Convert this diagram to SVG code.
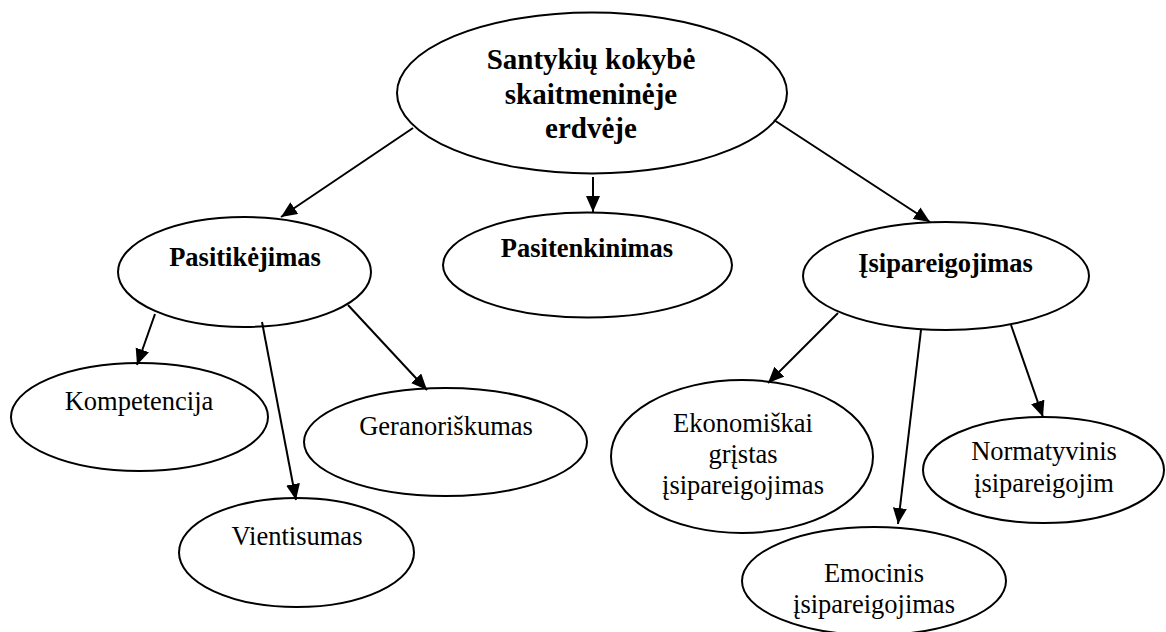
<svg xmlns="http://www.w3.org/2000/svg" width="1166" height="632" viewBox="0 0 1166 632">
  <style>
    .node ellipse { fill: #ffffff; stroke: #000000; stroke-width: 2; }
    .node text { font-family: "Liberation Serif", "Times New Roman", serif; font-size: 26.5px; fill: #000000; text-anchor: middle; }
    .node.bold text { font-weight: bold; }
    .node.root text { font-size: 29px; }
    .edges line { stroke: #000000; stroke-width: 2; marker-end: url(#arrow); }
  </style>
  <defs>
    <marker id="arrow" markerUnits="userSpaceOnUse" markerWidth="17" markerHeight="15" refX="16" refY="7" orient="auto">
      <path d="M0,0 L16,7 L0,14 Z" fill="#000000"/>
    </marker>
  </defs>
  <rect width="1166" height="632" fill="#ffffff"/>

  <!-- root -->
  <g id="root" class="node bold root">
    <ellipse cx="592" cy="93" rx="195" ry="80.5"/>
    <text x="591" y="69">Santykių kokybė</text>
    <text x="591" y="104">skaitmeninėje</text>
    <text x="591" y="138">erdvėje</text>
  </g>

  <!-- second level -->
  <g id="pasitikejimas" class="node bold">
    <ellipse cx="244.5" cy="272" rx="126.5" ry="55"/>
    <text x="245" y="266">Pasitikėjimas</text>
  </g>
  <g id="pasitenkinimas" class="node bold">
    <ellipse cx="587.5" cy="265" rx="144.5" ry="52.5"/>
    <text x="587" y="257">Pasitenkinimas</text>
  </g>
  <g id="isipareigojimas" class="node bold">
    <ellipse cx="946" cy="276" rx="143" ry="54"/>
    <text x="945.5" y="272">Įsipareigojimas</text>
  </g>

  <!-- trust components -->
  <g id="kompetencija" class="node">
    <ellipse cx="139.5" cy="417" rx="128.5" ry="54"/>
    <text x="139" y="410">Kompetencija</text>
  </g>
  <g id="vientisumas" class="node">
    <ellipse cx="296.5" cy="552.5" rx="117.5" ry="54.5"/>
    <text x="297" y="545">Vientisumas</text>
  </g>
  <g id="geranoriskumas" class="node">
    <ellipse cx="445.5" cy="442" rx="141.5" ry="54"/>
    <text x="446" y="435">Geranoriškumas</text>
  </g>

  <!-- commitment components -->
  <g id="ekonomiskai" class="node">
    <ellipse cx="742" cy="456.5" rx="131" ry="76.5"/>
    <text x="743" y="432">Ekonomiškai</text>
    <text x="743" y="463">grįstas</text>
    <text x="743" y="494">įsipareigojimas</text>
  </g>
  <g id="emocinis" class="node">
    <ellipse cx="874" cy="581" rx="132" ry="54"/>
    <text x="874" y="582">Emocinis</text>
    <text x="874" y="613">įsipareigojimas</text>
  </g>
  <g id="normatyvinis" class="node">
    <ellipse cx="1043.5" cy="470" rx="120.5" ry="53"/>
    <text x="1044" y="460">Normatyvinis</text>
    <text x="1044" y="492">įsipareigojim</text>
  </g>

  <!-- connectors -->
  <g id="edges" class="edges">
    <line x1="413" y1="128" x2="281" y2="217"/>
    <line x1="593" y1="177" x2="593" y2="212"/>
    <line x1="774" y1="120" x2="930" y2="222"/>
    <line x1="155" y1="314" x2="137" y2="365"/>
    <line x1="262" y1="322" x2="296" y2="500"/>
    <line x1="348" y1="305" x2="427" y2="390"/>
    <line x1="838" y1="313" x2="768" y2="383"/>
    <line x1="921" y1="330" x2="898" y2="524"/>
    <line x1="1011" y1="325" x2="1043" y2="417"/>
  </g>
</svg>
